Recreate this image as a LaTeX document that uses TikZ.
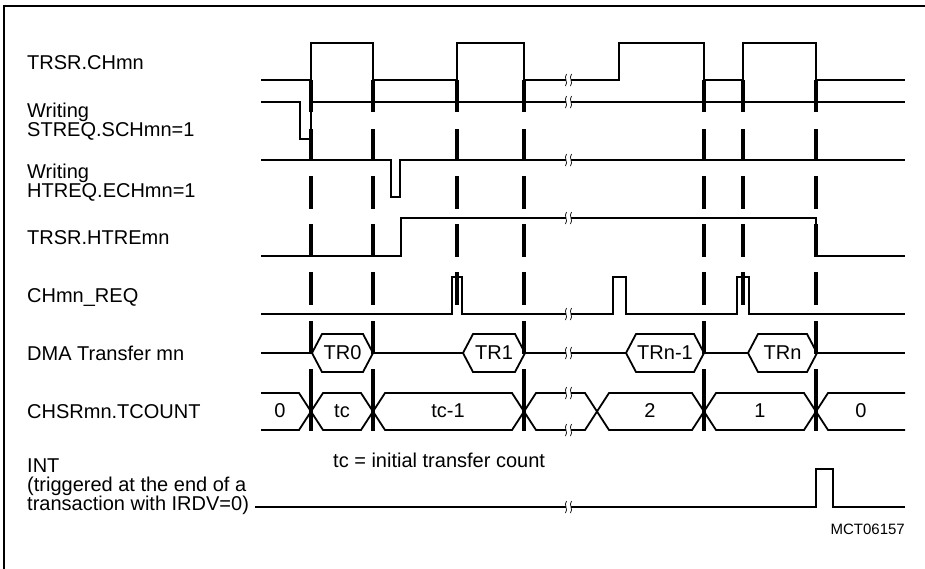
\documentclass[tikz,border=0pt]{standalone}
\usepackage{fontspec}
\setmainfont{Liberation Sans}
\usepackage{tikz}
\usetikzlibrary{positioning}

% break mark on a signal line: x, y
\newcommand{\sigbreak}[2]{%
  \fill[white] (#1-2.5,#2-3) rectangle (#1+2.5,#2+3);
  \draw[line width=0.7pt] (#1-1.5,#2-6) .. controls (#1-4.5,#2-2) and (#1+0.5,#2+2) .. (#1-2.5,#2+6);
  \draw[line width=0.7pt] (#1+3.5,#2-6) .. controls (#1+0.5,#2-2) and (#1+5.5,#2+2) .. (#1+2.5,#2+6);
}
% transfer hexagon on the DMA line: left x, right x, name, text
\newcommand{\hexbus}[4]{%
  \draw[sig] (#1,353) -- (#1+10,334) -- (#2-10,334) -- (#2,353) -- (#2-10,372) -- (#1+10,372) -- cycle;
  \node[val] (#3) at ({(#1+#2)/2},353) {#4};
}

\begin{document}
\begin{tikzpicture}[x=1pt, y=-1pt,
  sig/.style={line width=1.8pt},
  guide/.style={line width=3.2pt},
  lbl/.style={anchor=base west, inner sep=0pt, align=left,
              font=\fontsize{20}{19}\selectfont},
  val/.style={inner sep=0pt, font=\fontsize{20}{19}\selectfont},
  tag/.style={anchor=base east, inner sep=0pt, font=\fontsize{15}{16}\selectfont}
]
  \useasboundingbox[fill=white] (0,0) rectangle (925,568);
  \draw[line width=1.2pt] (4,575) -- (4,6) -- (930,6);

  %--- Signal names ---
  \node[lbl] (lch) at (27,69)  {TRSR.CHmn};
  \node[lbl] (lst) at (27,136) {Writing\\STREQ.SCHmn=1};
  \node[lbl] (lht) at (27,197) {Writing\\HTREQ.ECHmn=1};
  \node[lbl] (lhe) at (27,244) {TRSR.HTREmn};
  \node[lbl] (lrq) at (27,302) {CHmn\_REQ};
  \node[lbl] (ldm) at (27,360) {DMA Transfer mn};
  \node[lbl] (ltc) at (27,418) {CHSRmn.TCOUNT};
  \node[lbl] (lin) at (27,510) {INT\\(triggered at the end of a\\transaction with IRDV=0)};

  %--- Dashed time markers ---
  \foreach \x in {311,373,524,704,816}
    \foreach \a/\b in {80/112,129/160,176/209,224/257,272/305,321/354,369/431}
      {\draw[guide] (\x,\a) -- (\x,\b);}
  \foreach \x in {457,743}
    \foreach \a/\b in {80/112,129/160,176/209,224/257,272/305}
      {\draw[guide] (\x,\a) -- (\x,\b);}

  %--- Waveforms ---
  \draw[sig] (261,80) -- (311,80) -- (311,43) -- (373,43) -- (373,80) -- (457,80) -- (457,43)
    -- (524,43) -- (524,80) -- (619,80) -- (619,43) -- (704,43) -- (704,80) -- (743,80)
    -- (743,43) -- (816,43) -- (816,80) -- (905,80);
  \draw[sig] (261,102) -- (300,102) -- (300,139) -- (311,139) -- (311,102) -- (905,102);
  \draw[sig] (261,160) -- (391,160) -- (391,197) -- (400,197) -- (400,160) -- (905,160);
  \draw[sig] (261,256) -- (401,256) -- (401,218) -- (816,218) -- (816,256) -- (905,256);
  \draw[sig] (261,314) -- (452,314) -- (452,277) -- (462,277) -- (462,314) -- (613,314)
    -- (613,277) -- (626,277) -- (626,314) -- (737,314) -- (737,277) -- (749,277)
    -- (749,314) -- (905,314);

  % DMA transfers
  \hexbus{312}{373}{tr0}{TR0}
  \hexbus{463}{525}{tr1}{TR1}
  \hexbus{626}{704}{trn1}{TRn-1}
  \hexbus{748}{817}{trn}{TRn}
  \draw[sig] (261,353) -- (312,353);
  \draw[sig] (373,353) -- (463,353);
  \draw[sig] (525,353) -- (626,353);
  \draw[sig] (704,353) -- (748,353);
  \draw[sig] (817,353) -- (905,353);

  % transfer count bus
  \draw[sig] (261,393) -- (299,393) -- (323,430) -- (361,430) -- (385,393) -- (512,393)
    -- (536,430) -- (585,430) -- (609,393) -- (692,393) -- (716,430) -- (804,430)
    -- (828,393) -- (905,393);
  \draw[sig] (261,430) -- (299,430) -- (323,393) -- (361,393) -- (385,430) -- (512,430)
    -- (536,393) -- (585,393) -- (609,430) -- (692,430) -- (716,393) -- (804,393)
    -- (828,430) -- (905,430);
  \node[val] (c0)  at (280,411) {0};
  \node[val] (c1)  at (342,411) {tc};
  \node[val] (c2)  at (448,411) {tc-1};
  \node[val] (c3)  at (650,411) {2};
  \node[val] (c4)  at (760,411) {1};
  \node[val] (c5)  at (861,411) {0};

  \node[lbl] (note) at (333,467) {tc = initial transfer count};

  % interrupt
  \draw[sig] (255,507) -- (816,507) -- (816,469) -- (833,469) -- (833,507) -- (905,507);

  %--- Breaks ---
  \foreach \y in {80,102,160,218,314,353,393,430,507}
    {\sigbreak{568}{\y}}

  \node[tag] (id) at (905,534) {MCT06157};
\end{tikzpicture}
\end{document}
